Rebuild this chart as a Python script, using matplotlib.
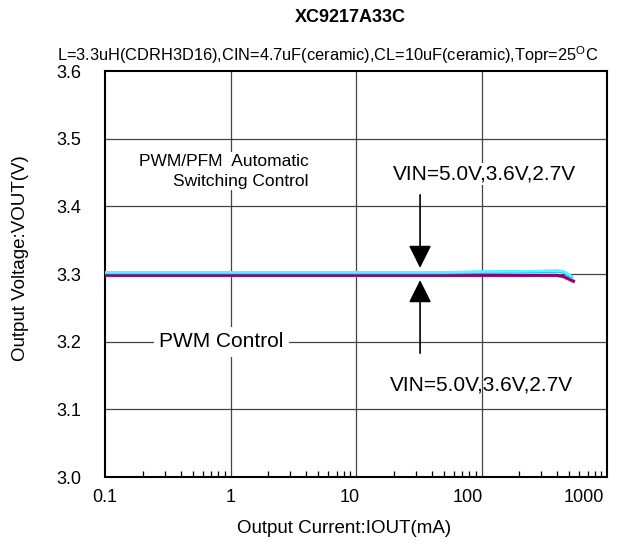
import matplotlib
matplotlib.use("Agg")
import matplotlib.pyplot as plt
from matplotlib.ticker import FixedLocator, NullFormatter
from matplotlib.transforms import ScaledTranslation

plt.rcParams['font.family'] = ['Liberation Sans', 'DejaVu Sans']

# ---- data ----
pfm_iout = [0.1, 1, 10, 50, 100, 200, 300, 400, 450, 520]
pfm_vin50 = [3.3025, 3.3025, 3.3025, 3.3025, 3.3035, 3.304, 3.3045, 3.305, 3.304, 3.297]
pfm_vin36 = [3.302, 3.302, 3.302, 3.302, 3.303, 3.3035, 3.304, 3.3045, 3.3035, 3.296]
pfm_vin27 = [3.3015, 3.3015, 3.3015, 3.3015, 3.302, 3.303, 3.3035, 3.304, 3.303, 3.295]

pwm_iout = [0.1, 1, 10, 50, 100, 200, 300, 400, 450, 540]
pwm_vin50 = [3.298, 3.298, 3.298, 3.298, 3.298, 3.298, 3.298, 3.298, 3.2965, 3.2895]
pwm_vin36 = [3.298, 3.298, 3.298, 3.298, 3.298, 3.298, 3.298, 3.2978, 3.296, 3.289]
pwm_vin27 = [3.2975, 3.2975, 3.2975, 3.2975, 3.2975, 3.2975, 3.2975, 3.2975, 3.2955, 3.2885]

x_ticks = [0.1, 1, 10, 100, 1000]
x_ticklabels = ["0.1", "1", "10", "100", "1000"]
y_ticks = [3.0, 3.1, 3.2, 3.3, 3.4, 3.5, 3.6]

title = "XC9217A33C"
subtitle = "L=3.3uH(CDRH3D16),CIN=4.7uF(ceramic),CL=10uF(ceramic),Topr=25$^{\\mathregular{O}}$C"
xlabel = "Output Current:IOUT(mA)"
ylabel = "Output Voltage:VOUT(V)"
vin_text = "VIN=5.0V,3.6V,2.7V"

# ---- figure ----
fig = plt.figure(figsize=(6.34, 5.5), dpi=100)
ax = fig.add_axes([105/634, (550-477)/550, (607-105)/634, (477-71)/550])
ax.set_xscale('log')
ax.set_xlim(0.1, 1000)
ax.set_ylim(3.0, 3.6)

# grid
for xv in x_ticks[1:-1]:
    ax.axvline(xv, color='#444444', lw=0.9, zorder=1)
for yv in y_ticks[1:-1]:
    ax.axhline(yv, color='#444444', lw=0.9, zorder=1)

# lines (PWM below, PFM on top)
ax.plot(pwm_iout, pwm_vin27, color='#FF6666', lw=2.0, zorder=3)
ax.plot(pwm_iout, pwm_vin36, color='#FFB060', lw=2.0, zorder=3)
ax.plot(pwm_iout, pwm_vin50, color='#8B007F', lw=2.2, zorder=3)
ax.plot(pfm_iout, pfm_vin27, color='#00B8D8', lw=2.0, zorder=4)
ax.plot(pfm_iout, pfm_vin36, color='#00E0F0', lw=2.0, zorder=4)
ax.plot(pfm_iout, pfm_vin50, color='#60F0FF', lw=1.8, zorder=4)

# ticks
ax.xaxis.set_major_locator(FixedLocator(x_ticks))
ax.set_xticklabels(x_ticklabels)
minor = []
for d in [0.1, 1, 10, 100]:
    for m in range(2, 10):
        minor.append(d * m)
ax.xaxis.set_minor_locator(FixedLocator(minor))
ax.xaxis.set_minor_formatter(NullFormatter())
ax.tick_params(axis='x', which='minor', direction='in', length=4, width=0.9, color='black')
ax.tick_params(axis='x', which='major', length=0, pad=9, labelsize=13)
ax.set_yticks(y_ticks)
ax.set_yticklabels([f"{v:.1f}" for v in y_ticks])
ax.tick_params(axis='y', which='major', length=0, pad=17, labelsize=13)

# the original chart's x tick labels drift slightly left of their gridlines
label_shift_px = [0, 0, -6, -14, -23]
for lbl, dx in zip(ax.xaxis.get_majorticklabels(), label_shift_px):
    lbl.set_transform(lbl.get_transform() + ScaledTranslation(dx / 100, 0, fig.dpi_scale_trans))

for s in ax.spines.values():
    s.set_linewidth(1.5)
    s.set_color('black')

ax.set_xlabel(xlabel, fontsize=13.5, labelpad=10)
ax.set_ylabel(ylabel, fontsize=13.5, labelpad=20)
ax.xaxis.label.set_x(0.476)
ax.yaxis.label.set_y(0.54)

fig.text(350/634, 1 - 18/550, title, ha='center', va='center', fontsize=13, fontweight='bold')
fig.text(328/634, 1 - 55/550, subtitle, ha='center', va='center', fontsize=11.8)

# annotations
bbox = dict(facecolor='white', edgecolor='none', pad=1)
ax.text(4.2, 3.452, "PWM/PFM  Automatic\nSwitching Control", ha='right', va='center',
        multialignment='right', fontsize=12.5, linespacing=1.4, bbox=bbox, zorder=5)
ax.text(0.85, 3.2, "PWM Control", ha='center', va='center', fontsize=15,
        bbox=dict(facecolor='white', edgecolor='none', pad=4), zorder=5)
ax.text(105, 3.448, vin_text, ha='center', va='center', fontsize=15, bbox=bbox, zorder=5)
ax.text(100, 3.136, vin_text, ha='center', va='center', fontsize=15, zorder=5)

ap = dict(arrowstyle='-|>,head_length=1.4,head_width=0.7', color='black', lw=1.2,
          shrinkA=0, shrinkB=0, mutation_scale=10)
ax.annotate("", xy=(32.4, 3.309), xytext=(32.4, 3.417), arrowprops=ap, zorder=6)
ax.annotate("", xy=(32.4, 3.291), xytext=(32.4, 3.183), arrowprops=ap, zorder=6)

fig.savefig("out.png", dpi=100)
